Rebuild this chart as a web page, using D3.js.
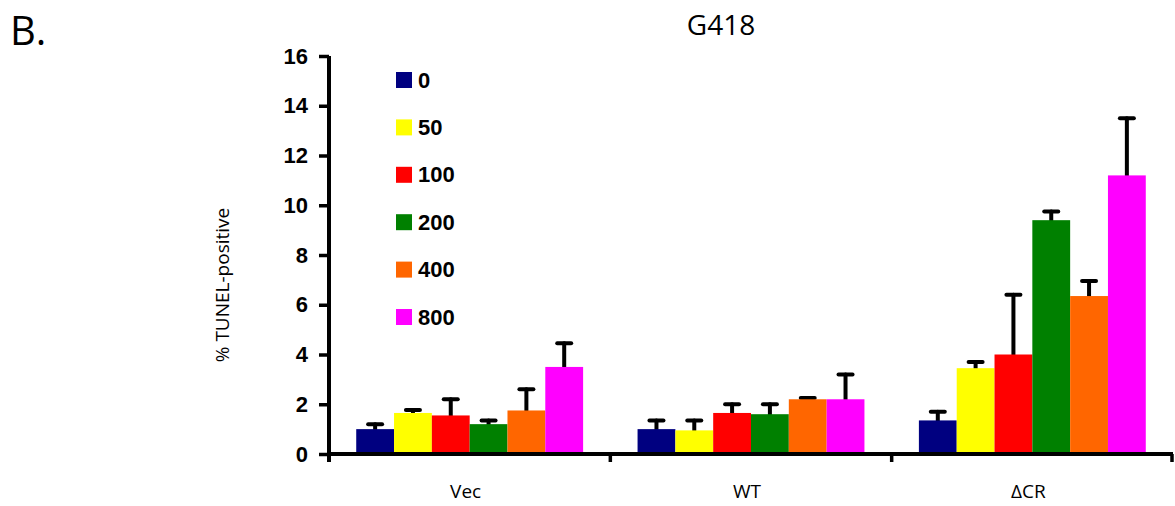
<!DOCTYPE html>
<html>
<head>
<meta charset="UTF-8">
<title>G418</title>
<script src="https://d3js.org/d3.v7.min.js"></script>
<style>
  body { margin: 0; background: #fff; }
</style>
</head>
<body>
<div id="chart"></div>
<script>
// data
var groups = ["Vec", "WT", "\u0394CR"];
var doses = ["0", "50", "100", "200", "400", "800"];
var colors = ["#000080", "#ffff00", "#ff0000", "#008000", "#ff6600", "#ff00ff"];
var vecMeans = [1.0, 1.65, 1.55, 1.2, 1.75, 3.5];
var vecErr   = [0.2, 0.12, 0.65, 0.15, 0.85, 0.95];
var wtMeans  = [1.0, 0.95, 1.65, 1.6, 2.2, 2.2];
var wtErr    = [0.35, 0.4, 0.35, 0.4, 0.05, 1.0];
var crMeans  = [1.35, 3.45, 4.0, 9.4, 6.35, 11.2];
var crErr    = [0.35, 0.25, 2.4, 0.35, 0.6, 2.3];
var yTicks = [0, 2, 4, 6, 8, 10, 12, 14, 16];

var means = [vecMeans, wtMeans, crMeans];
var errs = [vecErr, wtErr, crErr];

var W = 1175, H = 506;
var plotLeft = 329, plotRight = 1173, plotTop = 56, plotBottom = 454;

var svg = d3.select("#chart").append("svg")
    .attr("width", W)
    .attr("height", H);

var x0 = d3.scaleBand().domain(groups).range([plotLeft, plotRight]);
var x1 = d3.scaleBand().domain(doses).range([0, x0.bandwidth()])
    .paddingInner(0).paddingOuter(0.72);
var y = d3.scaleLinear().domain([0, 16]).range([plotBottom, plotTop]);

var data = [];
groups.forEach(function(g, i) {
  doses.forEach(function(d, j) {
    data.push({group: g, dose: d, color: colors[j], value: means[i][j], err: errs[i][j]});
  });
});

function cx(d) { return x0(d.group) + x1(d.dose) + x1.bandwidth() / 2; }

// error bars (drawn first, bars cover the lower part)
var eb = svg.append("g").selectAll("g").data(data).enter().append("g")
    .attr("stroke", "#000")
    .attr("stroke-width", 4)
    .attr("stroke-linecap", "round");
eb.append("line")
    .attr("x1", cx).attr("x2", cx)
    .attr("y1", function(d) { return y(d.value); })
    .attr("y2", function(d) { return y(d.value + d.err); });
eb.append("line")
    .attr("x1", function(d) { return cx(d) - 7; })
    .attr("x2", function(d) { return cx(d) + 7; })
    .attr("y1", function(d) { return y(d.value + d.err); })
    .attr("y2", function(d) { return y(d.value + d.err); });

// bars
svg.append("g").selectAll("rect").data(data).enter().append("rect")
    .attr("x", function(d) { return x0(d.group) + x1(d.dose); })
    .attr("width", x1.bandwidth())
    .attr("y", function(d) { return y(d.value); })
    .attr("height", function(d) { return y(0) - y(d.value); })
    .attr("fill", function(d) { return d.color; });

// y axis
var yAxis = svg.append("g")
    .attr("transform", "translate(" + plotLeft + ",0)")
    .call(d3.axisLeft(y).tickValues(yTicks).tickSize(10).tickSizeOuter(0).tickPadding(11));
yAxis.select(".domain").attr("stroke-width", 4).attr("d", "M0," + plotTop + "V" + (plotBottom + 8));
yAxis.selectAll(".tick line").attr("stroke-width", 3.5);
yAxis.selectAll(".tick text")
    .attr("font-family", "'Liberation Sans', Arial, sans-serif")
    .attr("font-weight", "bold")
    .attr("font-size", 22)
    .attr("fill", "#000");

// x axis with ticks at group boundaries
var xg = svg.append("g");
xg.append("line")
    .attr("x1", plotLeft).attr("x2", plotRight)
    .attr("y1", plotBottom).attr("y2", plotBottom)
    .attr("stroke", "#000").attr("stroke-width", 4);
var bounds = groups.slice(1).map(function(g) { return x0(g); }).concat([plotRight - 1]);
xg.selectAll(".xt").data(bounds).enter().append("line")
    .attr("x1", function(d) { return d; }).attr("x2", function(d) { return d; })
    .attr("y1", plotBottom).attr("y2", plotBottom + 8)
    .attr("stroke", "#000").attr("stroke-width", 3.5);
xg.selectAll("text").data(groups).enter().append("text")
    .attr("x", function(d) { return x0(d) + x0.bandwidth() / 2 - 4; })
    .attr("y", 498)
    .attr("text-anchor", "middle")
    .attr("font-family", "'Open Sans', sans-serif")
    .attr("font-size", 19)
    .text(function(d) { return d; });

// legend
var lg = svg.append("g").selectAll("g").data(doses).enter().append("g")
    .attr("transform", function(d, i) { return "translate(396," + (72 + i * 47.4) + ")"; });
lg.append("rect").attr("width", 16).attr("height", 16)
    .attr("fill", function(d, i) { return colors[i]; });
lg.append("text")
    .attr("x", 22).attr("y", 15.5)
    .attr("font-family", "'Liberation Sans', Arial, sans-serif")
    .attr("font-weight", "bold")
    .attr("font-size", 22)
    .text(function(d) { return d; });

// titles
svg.append("text")
    .attr("x", 721).attr("y", 35)
    .attr("text-anchor", "middle")
    .attr("font-family", "'Open Sans', sans-serif")
    .attr("font-size", 28)
    .text("G418");
svg.append("text")
    .attr("x", 10).attr("y", 45)
    .attr("font-family", "'Open Sans', sans-serif")
    .attr("font-size", 40)
    .text("B.");
svg.append("text")
    .attr("transform", "translate(229,285) rotate(-90)")
    .attr("text-anchor", "middle")
    .attr("font-family", "'Open Sans', sans-serif")
    .attr("font-size", 19)
    .text("% TUNEL-positive");
</script>
</body>
</html>
